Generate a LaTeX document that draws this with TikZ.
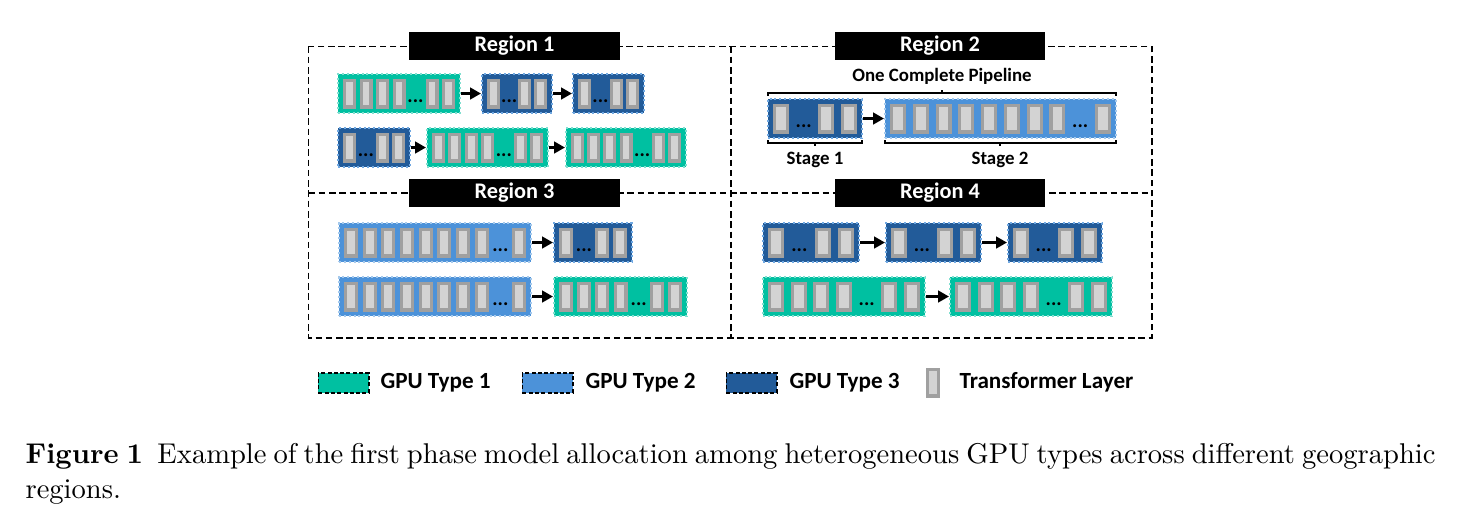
\documentclass[tikz,border=0pt]{standalone}
\usepackage{fontspec}
\newfontfamily\carlito{Carlito}
\usetikzlibrary{fit,arrows.meta}

\definecolor{gpuone}{RGB}{0,192,161}
\definecolor{gputwo}{RGB}{76,146,217}
\definecolor{gputhree}{RGB}{34,91,153}
\definecolor{layeredge}{RGB}{160,160,160}
\definecolor{layerfill}{RGB}{211,211,211}

\tikzstyle{ga}=[shape=rectangle,
                draw=gpuone!50!white,
                fill=gpuone,
                densely dotted,
                line width=0.7pt,
                inner sep=0]
\tikzstyle{gb}=[shape=rectangle,
                draw=gputwo!50!white,
                fill=gputwo,
                densely dotted,
                line width=0.7pt,
                inner sep=0]
\tikzstyle{gc}=[shape=rectangle,
                draw=gputwo!80!white,
                fill=gputhree,
                densely dotted,
                line width=0.7pt,
                inner sep=0]
\tikzstyle{ly}=[shape=rectangle,
                draw=layeredge,
                fill=layerfill,
                solid,
                line width=1.1pt,
                inner sep=0,
                minimum width={\cw*0.35pt-1.1pt},
                minimum height=9.4pt]
\tikzstyle{dt}=[anchor=base,
                inner sep=0,
                font=\carlito\bfseries\fontsize{7}{8}\selectfont]
\tikzstyle{rg}=[draw=black,
                line width=0.65pt,
                dash pattern=on 2.3pt off 1.3pt]
\tikzstyle{tg}=[fill=black,
                text=white,
                inner sep=0,
                minimum width=73.8pt,
                minimum height=9.6pt,
                font=\carlito\bfseries\fontsize{7.8}{9}\selectfont]
\tikzstyle{lb}=[inner sep=0,
                font=\carlito\bfseries\fontsize{6.6}{8}\selectfont]
\tikzstyle{sw}=[draw=black,
                dash pattern=on 1.4pt off 0.8pt,
                line width=0.6pt,
                minimum width=17.6pt,
                minimum height=6.8pt]
\tikzstyle{lg}=[inner sep=0,
                anchor=base west,
                font=\carlito\bfseries\fontsize{8.1}{9}\selectfont]

% one GPU block: name, style, left, right, top, slots (c = layer, d = dots)
\newcommand{\gpu}[6]{%
  \node[#2, fit={(#3,#5) (#4,#5+39)}] (#1) {};
  \foreach \s [count=\k] in {#6} {\xdef\nslots{\k}}
  \pgfmathsetmacro{\pitch}{(#4-#3-10-\cw)/(\nslots-1)}
  \foreach \s [count=\k] in {#6} {
    \pgfmathsetmacro{\cx}{#3+5+\cw/2+(\k-1)*\pitch}
    \if\s c\node[ly] (#1-\k) at (\cx,#5+19.5) {};
    \else\node[dt] (#1-\k) at (\cx,#5+28) {...};\fi
  }
}

\begin{document}
\begin{tikzpicture}[x=0.35pt,y=-0.35pt,>={Triangle[length=3.8pt,width=4pt]}]
\useasboundingbox (0,0) rectangle (1460,526);

% regions
\node[inner sep=0, fit={(309,47) (730,192)}] (r1) {};
\node[inner sep=0, fit={(730,47) (1151,192)}] (r2) {};
\node[inner sep=0, fit={(309,192) (730,337)}] (r3) {};
\node[inner sep=0, fit={(730,192) (1151,337)}] (r4) {};
\draw[rg] (r1.north west) rectangle (r4.south east);
\draw[rg] (r1.south west) -- (r2.south east);
\draw[rg] (r1.north east) -- (r3.south east);

\node[tg] (t1) at (514.5,46) {Region 1};
\node[tg] (t2) at (940,46) {Region 2};
\node[tg] (t3) at (514.5,193) {Region 3};
\node[tg] (t4) at (940,193) {Region 4};

% region 1
\def\cw{13}
\gpu{a1}{ga}{338}{460}{74}{c,c,c,c,d,c,c}
\gpu{a2}{gc}{482}{552}{74}{c,d,c,c}
\gpu{a3}{gc}{573}{644}{74}{c,d,c,c}
\gpu{a4}{gc}{338}{410}{128}{c,d,c,c}
\gpu{a5}{ga}{427}{548}{128}{c,c,c,c,d,c,c}
\gpu{a6}{ga}{566}{686}{128}{c,c,c,c,d,c,c}

% region 2
\def\cw{16}
\gpu{s1}{gc}{768}{862}{99}{c,d,c,c}
\gpu{s2}{gb}{885}{1116}{99}{c,c,c,c,c,c,c,c,d,c}

\draw[line width=0.6pt] (768,96) -- (768,93) -- (1116,93) -- (1116,96) (942,93) -- (942,90);
\draw[line width=0.6pt] (768,140) -- (768,143) -- (862,143) -- (862,140) (815,143) -- (815,146);
\draw[line width=0.6pt] (885,140) -- (885,143) -- (1116,143) -- (1116,140) (1000,143) -- (1000,146);
\node[lb] (pipe) at (942,76) {One Complete Pipeline};
\node[lb] (st1) at (815,160) {Stage 1};
\node[lb] (st2) at (1000,160) {Stage 2};

% region 3
\def\cw{14}
\gpu{c1}{gb}{339}{531}{223}{c,c,c,c,c,c,c,c,d,c}
\gpu{c2}{gc}{554}{632}{223}{c,d,c,c}
\gpu{c3}{gb}{339}{531}{277}{c,c,c,c,c,c,c,c,d,c}
\gpu{c4}{ga}{554}{687}{277}{c,c,c,c,d,c,c}

% region 4
\def\cw{16}
\gpu{d1}{gc}{763}{859}{223}{c,d,c,c}
\gpu{d2}{gc}{886}{981}{223}{c,d,c,c}
\gpu{d3}{gc}{1008}{1102}{223}{c,d,c,c}
\gpu{d4}{ga}{763}{925}{277}{c,c,c,c,d,c,c}
\gpu{d5}{ga}{950}{1112}{277}{c,c,c,c,d,c,c}

% paths
\path[->,line width=1pt] (a1) edge (a2)
          (a2) edge (a3)
          (a4) edge (a5)
          (a5) edge (a6)
          (s1) edge (s2)
          (c1) edge (c2)
          (c3) edge (c4)
          (d1) edge (d2)
          (d2) edge (d3)
          (d4) edge (d5);

% legend
\def\cw{14}
\node[ga, sw] (k1) at (343.5,383) {};
\node[lg] (k1t) at (380,388) {GPU Type 1};
\node[gb, sw] (k2) at (547.5,383) {};
\node[lg] (k2t) at (585,388) {GPU Type 2};
\node[gc, sw] (k3) at (751.5,383) {};
\node[lg] (k3t) at (789,388) {GPU Type 3};
\node[ly] (k4) at (933,382.5) {};
\node[lg] (k4t) at (959,388) {Transformer Layer};

% caption
\node[anchor=north west, inner sep=0, text width=493.5pt, align=justify,
      font=\fontsize{10}{12}\selectfont] (cap) at (25,443)
  {\textbf{Figure 1}\enspace Example of the first phase model allocation among heterogeneous GPU types across different geographic regions.};
\end{tikzpicture}
\end{document}
